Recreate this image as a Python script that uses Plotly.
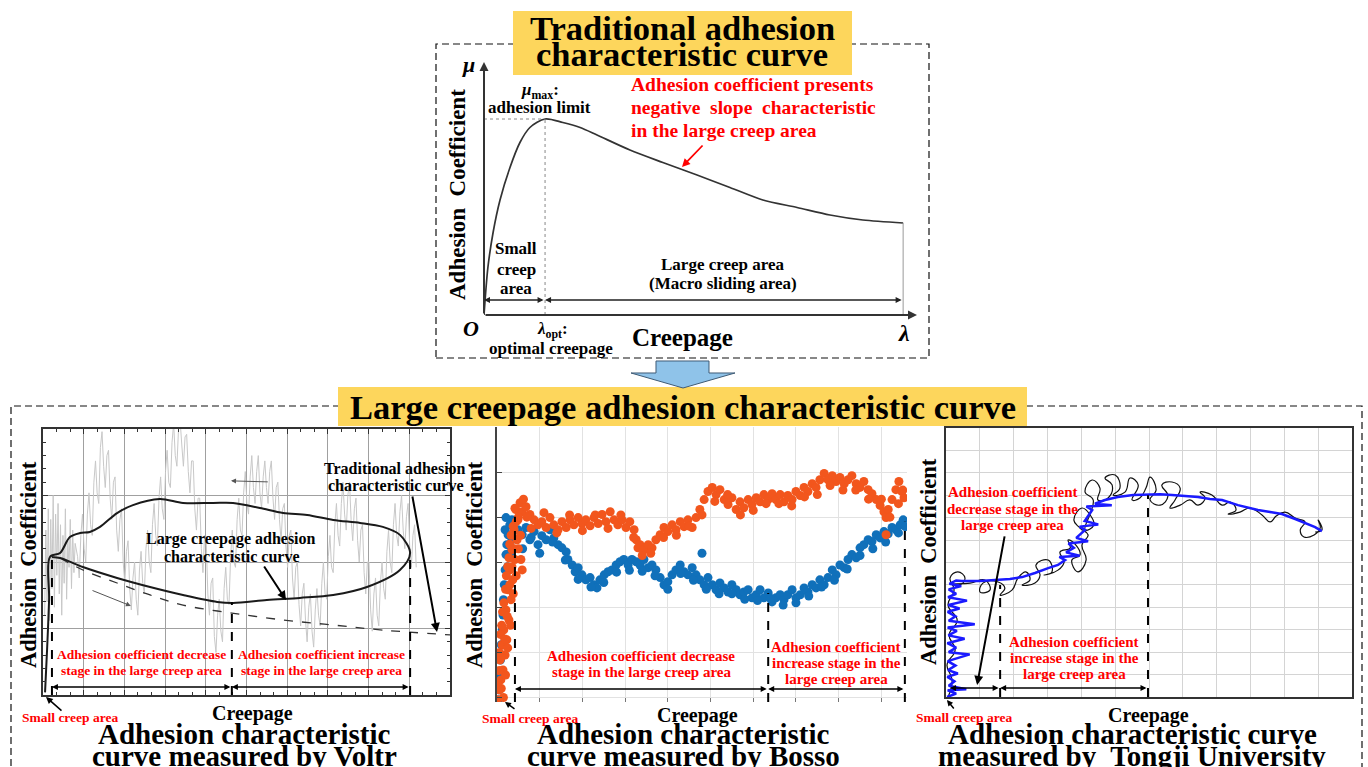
import plotly.graph_objects as go

W, H = 1368, 767
SERIF = "Liberation Serif"
RED = "#FF0000"
YELLOW = "#FDD65C"
BLUE_PTS = "#1070BA"
ORANGE_PTS = "#F2561D"


def px(x):
    return x / W


def py(y):
    return 1 - y / H


# ---------------- Traditional adhesion curve (top panel) ----------------
trad_x = [0, 0.009, 0.021, 0.037, 0.060, 0.083, 0.106, 0.141, 0.182, 0.222,
          0.261, 0.337, 0.413, 0.492, 0.568, 0.644, 0.723, 0.799, 0.875, 0.968]
trad_y = [0, 0.19, 0.33, 0.46, 0.59, 0.69, 0.75, 0.784, 0.77, 0.75,
          0.72, 0.66, 0.61, 0.56, 0.51, 0.46, 0.43, 0.40, 0.38, 0.368]
lam_opt, mu_max, lam_end = 0.141, 0.784, 0.968

# ---------------- Voltr measurement ----------------
# raw measured adhesion signal (creepage, adhesion coefficient)
voltr_raw = [
    (0.4, 0.30), (0.7, 0.62), (1.0, 0.35), (1.3, 0.70), (1.6, 0.28), (1.9, 0.66), (2.2, 0.40),
    (2.5, 0.75), (2.8, 0.33), (3.1, 0.68), (3.4, 0.45), (3.7, 0.72), (4.0, 0.38), (4.3, 0.64),
    (4.6, 0.30), (4.9, 0.60), (5.2, 0.42), (5.5, 0.70), (5.8, 0.36), (6.1, 0.58), (6.4, 0.48),
    (6.7, 0.66), (7.0, 0.40), (7.3, 0.62), (7.6, 0.46), (7.9, 0.57),
    (8.5, .52), (8.9, .44), (9.3, .60), (9.7, .68), (10.1, .55), (10.5, .50), (10.9, .68),
    (11.3, .76), (11.7, .64), (12.1, .60), (12.5, .80), (12.9, .88), (13.3, .76), (13.7, .72),
    (14.1, .93), (14.5, .99), (14.9, .86), (15.3, .78), (15.7, .90), (16.1, .92), (16.5, .74),
    (16.9, .66), (17.3, .80), (17.7, .82), (18.1, .62), (18.5, .54), (18.9, .66), (19.3, .70),
    (19.7, .50), (20.1, .42), (20.5, .54), (20.9, .58), (21.3, .40), (21.7, .32), (22.1, .44),
    (22.5, .50), (22.9, .36), (23.3, .30), (23.7, .47), (24.1, .54), (24.5, .42), (24.9, .38),
    (25.3, .55), (25.7, .62), (26.1, .50), (26.5, .46), (26.9, .64), (27.3, .72), (27.7, .60),
    (28.1, .56), (28.5, .74), (28.9, .82), (29.3, .70), (29.7, .66), (30.1, .84), (30.5, .92),
    (30.9, .80), (31.3, .78), (31.7, .95), (32.1, 1.02), (32.5, .90), (32.9, .86), (33.3, 1.00),
    (33.7, 1.03), (34.1, .94), (34.5, .86), (34.9, .97), (35.3, .98), (35.7, .84), (36.1, .76),
    (36.5, .88), (36.9, .88), (37.3, .70), (37.7, .62), (38.1, .74), (38.5, .74), (38.9, .55),
    (39.3, .46), (39.7, .60), (40.1, .58), (40.5, .38), (40.9, .30), (41.3, .42), (41.7, .44),
    (42.1, .22), (42.5, .16), (42.9, .30), (43.3, .36), (43.7, .24), (44.1, .20), (44.5, .40),
    (44.9, .48), (45.3, .36), (45.7, .34), (46.1, .52), (46.5, .62), (46.9, .50), (47.3, .48),
    (47.7, .66), (48.1, .74), (48.5, .62), (48.9, .60), (49.3, .76), (49.7, .84), (50.1, .72),
    (50.5, .68), (50.9, .82), (51.3, .90), (51.7, .78), (52.1, .72), (52.5, .84), (52.9, .90),
    (53.3, .76), (53.7, .70), (54.1, .82), (54.5, .88), (54.9, .78), (55.3, .72), (55.7, .84),
    (56.1, .88), (56.5, .74), (56.9, .66), (57.3, .78), (57.7, .80), (58.1, .66), (58.5, .58),
    (58.9, .70), (59.3, .72), (59.7, .56), (60.1, .48), (60.5, .60), (60.9, .62), (61.3, .44),
    (61.7, .36), (62.1, .48), (62.5, .50), (62.9, .34), (63.3, .26), (63.7, .38), (64.1, .42),
    (64.5, .28), (64.9, .20), (65.3, .33), (65.7, .38), (66.1, .24), (66.5, .18), (66.9, .32),
    (67.3, .40), (67.7, .30), (68.1, .26), (68.5, .42), (68.9, .50), (69.3, .38), (69.7, .36),
    (70.1, .52), (70.5, .60), (70.9, .48), (71.3, .46), (71.7, .64), (72.1, .72), (72.5, .60),
    (72.9, .56), (73.3, .72), (73.7, .80), (74.1, .68), (74.5, .62), (74.9, .75), (75.3, .80),
    (75.7, .66), (76.1, .58), (76.5, .70), (76.9, .74), (77.3, .58), (77.7, .50), (78.1, .62),
    (78.5, .64), (78.9, .46), (79.3, .38), (79.7, .50), (80.1, .50), (80.5, .32), (80.9, .24),
    (81.3, .38), (81.7, .44), (82.1, .30), (82.5, .26), (82.9, .42), (83.3, .50), (83.7, .40),
    (84.1, .36), (84.5, .54), (84.9, .62), (85.3, .50), (85.7, .46), (86.1, .64), (86.5, .72),
    (86.9, .60), (87.3, .56), (87.7, .69), (88.1, .75), (88.5, .62), (88.9, .55), (89.3, .67),
    (89.7, .72), (90.1, .56), (90.5, .48), (90.9, .60), (91.3, .64), (91.7, .48),
]
voltr_raw_x = [p[0] for p in voltr_raw]
voltr_raw_y = [p[1] for p in voltr_raw]
voltr_loop_x = [0.5, 1.0, 1.5, 1.7, 4.2, 6.6, 9.1, 11.5, 14.0, 18.2, 22.1, 28.7, 34.4, 41.8,
                46.7, 53.3, 59.0, 64.9, 71.3, 77.9, 83.5, 87.7, 90.2,
                87.7, 79.6, 71.3, 63.1, 55.0, 46.7, 42.8, 34.4, 26.3, 18.2, 9.8, 4.2, 2.2]
voltr_loop_y = [0.01, 0.17, 0.36, 0.519, 0.534, 0.594, 0.609, 0.613, 0.632, 0.684, 0.714,
                0.737, 0.722, 0.722, 0.722, 0.703, 0.684, 0.677, 0.658, 0.647, 0.632,
                0.602, 0.534,
                0.470, 0.406, 0.376, 0.365, 0.357, 0.346, 0.350, 0.376, 0.406, 0.440,
                0.481, 0.515, 0.519]
voltr_trad_x = [4.2, 9.8, 18.2, 26.3, 34.4, 46.4, 59.0, 71.3, 83.5, 100]
voltr_trad_y = [0.515, 0.470, 0.421, 0.376, 0.338, 0.308, 0.282, 0.263, 0.244, 0.226]
voltr_stage_x = [2.2, 46.4, 90.2]      # small creep / decrease / increase boundaries
voltr_stage_top = [0.519, 0.35, 0.534]

# ---------------- Bosso measurement ----------------
bosso_blue_x = [0.03, 0.05, 0.07, 0.08, 0.10, 0.12, 0.14, 0.15, 0.17, 0.19, 0.21, 0.23, 0.26,
                0.19, 0.30, 0.35, 0.21, 0.40,
                0.49, 0.59, 0.68, 0.77, 0.87, 0.96, 1.05, 1.15, 1.24, 1.33, 1.43, 1.52, 1.62,
                1.66, 1.76, 1.83, 1.90, 1.99, 2.08, 2.18, 2.27, 2.34, 2.41, 2.51, 2.60, 2.69,
                2.79, 2.88, 2.97, 3.07, 3.16, 3.26, 3.35, 3.44, 3.54, 3.63, 3.72, 3.82, 3.91,
                4.00, 4.10, 4.19, 4.29, 4.38, 4.47, 4.57, 4.66, 4.75, 4.85, 4.94, 5.04, 5.13,
                5.22, 5.32, 5.41, 5.50, 5.60, 5.69, 5.78, 5.88, 5.97, 6.07, 6.16, 6.25, 6.35,
                6.44, 6.53, 6.63, 6.72, 6.81, 6.91, 7.00, 7.10, 7.19, 7.28, 7.38, 7.47, 7.56,
                7.66, 7.75, 7.85, 7.94, 8.03, 8.13, 8.22, 8.31, 8.41, 8.50, 8.59, 8.69, 8.78,
                8.88, 8.97, 9.06, 9.16, 9.25, 9.34, 9.44, 9.51, 9.56,
                1.0, 1.3, 1.6, 1.9, 2.2, 2.5, 2.8, 3.1, 3.4, 3.7, 4.0, 4.3, 4.6, 4.9, 5.2,
                5.5, 5.8, 6.1, 6.4, 6.7, 7.0, 7.3, 7.6, 7.9, 8.2, 8.5, 8.8, 9.1, 9.4,
                0.6, 0.8, 0.35, 0.30, 0.25, 4.8]
bosso_blue_y = [-0.05, 0.17, 0.5, 0.83, 1.17, 1.5, 1.83, 2.17, 2.5, 2.83, 3.17, 3.39, 3.61,
                3.72, 3.83, 3.94, 3.99, 3.9,
                3.72, 3.61, 3.77, 3.50, 3.68, 3.39, 3.59, 3.50, 3.72, 3.54, 3.39, 3.32, 3.23,
                3.06, 2.94, 2.79, 2.88, 2.72, 2.61, 2.66, 2.50, 2.43, 2.61, 2.72, 2.79, 2.83,
                2.94, 3.01, 3.06, 2.94, 3.06, 3.01, 2.94, 3.06, 2.88, 2.94, 2.83, 2.66, 2.50,
                2.57, 2.72, 2.83, 2.94, 2.79, 2.72, 2.88, 2.72, 2.61, 2.50, 2.66, 2.50, 2.39,
                2.54, 2.43, 2.34, 2.50, 2.39, 2.28, 2.34, 2.39, 2.21, 2.28, 2.39, 2.21, 2.32,
                2.12, 2.21, 2.28, 2.17, 2.28, 2.39, 2.21, 2.28, 2.43, 2.34, 2.50, 2.43, 2.61,
                2.50, 2.66, 2.83, 2.72, 2.94, 2.88, 3.06, 3.17, 3.10, 3.32, 3.39, 3.50, 3.46,
                3.61, 3.54, 3.68, 3.63, 3.77, 3.72, 3.83, 3.94, 3.79,
                3.20, 3.45, 3.05, 2.62, 2.45, 2.55, 2.78, 2.82, 2.80, 2.70, 2.40, 2.75, 2.60,
                2.40, 2.30, 2.30, 2.18, 2.15, 2.20, 2.05, 2.10, 2.25, 2.45, 2.60, 2.85, 3.15,
                3.30, 3.45, 3.65,
                3.30, 3.55, 3.50, 3.20, 2.90, 3.20]
bosso_orange_x = [0.0, 0.05, 0.09, 0.14, 0.07, 0.19, 0.12, 0.23, 0.16, 0.28, 0.21, 0.33, 0.26,
                  0.37, 0.30, 0.42, 0.35, 0.47, 0.40, 0.49, 0.44, 0.54, 0.59, 0.59, 0.56,
                  0.68, 0.77, 0.87, 0.96, 1.05, 1.15, 1.24, 1.33, 1.43, 1.52, 1.62, 1.71, 1.80,
                  1.90, 1.99, 2.08, 2.18, 2.27, 2.37, 2.46, 2.55, 2.65, 2.74, 2.83, 2.93, 3.02,
                  3.11, 3.21, 3.26, 3.30, 3.35, 3.44, 3.54, 3.63, 3.72, 3.82, 3.91, 4.00, 4.10,
                  4.19, 4.29, 4.38, 4.47, 4.57, 4.66, 4.75, 4.85, 4.94, 5.04, 5.13, 5.22, 5.32,
                  5.41, 5.50, 5.60, 5.69, 5.78, 5.88, 5.97, 6.07, 6.16, 6.25, 6.35, 6.44, 6.53,
                  6.63, 6.72, 6.81, 6.91, 7.00, 7.10, 7.19, 7.28, 7.38, 7.47, 7.56, 7.66, 7.75,
                  7.85, 7.94, 8.03, 8.13, 8.22, 8.31, 8.41, 8.50, 8.59, 8.69, 8.78, 8.88, 8.97,
                  9.06, 9.11, 9.16, 9.25, 9.34, 9.41, 9.48, 9.53, 9.11,
                  0.8, 1.1, 1.4, 1.7, 2.0, 2.3, 2.6, 2.9, 3.2, 3.4, 3.6, 3.9, 4.2, 4.5, 4.8,
                  5.1, 5.4, 5.7, 6.0, 6.3, 6.6, 6.9, 7.2, 7.5, 7.8, 8.1, 8.4, 8.7, 9.0, 9.2,
                  9.4, 9.5, 0.25, 0.32, 0.38, 0.45, 0.5, 0.55, 0.62, 0.7, 0.1, 0.15, 0.2,
                  0.05, 0.10, 0.08, 0.18, 0.13, 0.24, 0.20, 0.30, 0.25, 0.35, 0.30, 0.40, 0.38,
                  0.45, 0.50, 0.02, 0.06, 0.11, 0.16, 0.22, 0.28, 0.33, 0.42]
bosso_orange_y = [-0.05, 0.17, 0.39, 0.61, 0.83, 0.94, 1.17, 1.28, 1.50, 1.72, 1.94, 2.17,
                  2.39, 2.61, 2.83, 3.06, 3.28, 3.50, 3.72, 3.94, 4.17, 4.32, 4.12, 2.83, 3.06,
                  4.23, 4.06, 3.94, 3.83, 3.90, 3.77, 3.99, 3.83, 3.72, 3.90, 3.77, 3.94, 3.83,
                  3.99, 3.86, 3.94, 3.81, 3.99, 3.86, 4.06, 3.90, 4.12, 3.94, 3.83, 3.94, 3.77,
                  3.90, 3.72, 3.50, 3.32, 3.39, 3.28, 3.39, 3.32, 3.50, 3.61, 3.77, 3.68, 3.83,
                  3.72, 3.90, 3.79, 3.94, 3.77, 3.99, 4.17, 4.39, 4.57, 4.66, 4.50, 4.61, 4.39,
                  4.28, 4.43, 4.17, 4.34, 4.21, 4.39, 4.28, 4.43, 4.34, 4.50, 4.39, 4.52, 4.39,
                  4.50, 4.34, 4.48, 4.39, 4.57, 4.48, 4.66, 4.57, 4.74, 4.66, 4.83, 4.97, 4.83,
                  4.92, 4.79, 4.88, 4.74, 4.83, 4.92, 4.74, 4.66, 4.79, 4.61, 4.52, 4.39, 4.26,
                  4.12, 3.99, 4.17, 4.39, 4.61, 4.79, 4.57, 4.43, 3.61,
                  3.75, 4.10, 3.65, 4.05, 3.70, 4.05, 3.75, 4.05, 3.55, 3.15, 3.20, 3.55, 3.60,
                  3.80, 4.05, 4.35, 4.50, 4.05, 4.15, 4.30, 4.30, 4.25, 4.45, 4.50, 4.70, 4.60,
                  4.60, 4.40, 4.40, 4.00, 4.30, 4.60, 1.1, 1.6, 2.3, 2.7, 3.3, 3.6, 4.4, 4.0,
                  0.2, 0.0, 0.5,
                  0.6, 0.9, 1.4, 1.3, 1.9, 1.8, 2.4, 2.5, 2.9, 2.9, 3.4, 3.3, 3.8, 3.9, 4.0,
                  0.3, 1.0, 1.6, 2.1, 2.7, 3.1, 3.6, 4.2]
bosso_stage_x = [0.42, 6.35, 9.55]
bosso_stage_top = [4.01, 2.32, 3.90]

# ---------------- Tongji University measurement ----------------
tongji_blue_x = [0.03, 0.30, 0.05, 0.60, 0.08, 0.25, 0.04, 0.35, 0.06, 0.28, 0.05, 0.70, 0.08,
                 0.30, 0.04, 0.55, 0.07, 0.32, 0.05, 0.85, 0.08, 0.28, 0.05, 0.40, 0.07, 0.62,
                 0.06, 0.30, 0.08, 0.45, 0.10, 0.30,
                 0.47, 1.00, 1.45, 1.89, 2.25, 2.63, 3.02, 3.31, 3.52, 3.35, 3.95, 3.55, 3.78,
                 3.62, 4.20, 3.85, 4.11, 3.95, 4.50, 4.10, 4.32, 4.15, 4.90, 4.40, 4.70, 5.08,
                 5.53, 5.97, 6.33, 6.68, 7.06, 7.45, 7.80, 8.16, 8.63, 8.99, 9.22, 9.58, 9.93,
                 10.32, 10.61, 10.91, 11.11]
tongji_blue_y = [0.00, 0.15, 0.30, 0.35, 0.50, 0.70, 0.90, 1.05, 1.20, 1.40, 1.60, 1.90, 2.00,
                 2.20, 2.40, 2.60, 2.75, 2.95, 3.10, 3.25, 3.40, 3.60, 3.80, 3.95, 4.10, 4.30,
                 4.45, 4.60, 4.80, 4.95, 5.05, 5.20,
                 5.17, 5.17, 5.22, 5.26, 5.35, 5.53, 5.75, 5.89, 6.11, 6.25, 6.30, 6.45, 6.65,
                 6.85, 6.95, 7.10, 7.45, 7.60, 7.70, 7.85, 8.34, 8.50, 8.55, 8.62, 8.79, 8.92,
                 9.01, 9.05, 9.05, 9.01, 8.97, 8.92, 8.83, 8.79, 8.56, 8.43, 8.34, 8.25, 8.16,
                 7.94, 7.76, 7.58, 7.40]
tongji_black_x = [0.06, 0.18, 0.03, 0.27, 0.09, 0.33, 0.06, 0.24, 0.12, 0.35, 0.56, 0.41, 0.18,
                  0.71, 1.15, 1.30, 1.01, 1.09, 1.54, 1.74, 1.60, 1.95, 2.13, 2.36, 2.48, 2.25,
                  2.63, 2.78, 2.66, 3.02, 3.13, 2.90, 3.31, 3.49, 3.37, 3.67, 3.61, 3.84, 3.96,
                  3.72, 3.90, 4.14, 4.02, 4.20, 3.96, 3.78, 4.02, 4.26, 4.37, 4.11, 4.35, 4.11,
                  4.32, 4.55, 4.49, 4.79, 4.91, 4.70, 5.00, 5.14, 4.94, 5.29, 5.44, 5.68, 5.50,
                  5.73, 5.91, 6.03, 6.21, 6.03, 6.33, 6.56, 6.38, 6.68, 6.92, 6.77, 6.62, 6.92,
                  7.21, 7.45, 7.66, 7.51, 7.86, 8.16, 8.40, 8.57, 8.34, 8.69, 8.99, 9.34, 9.58,
                  9.76, 10.02, 10.32, 10.61, 10.47, 10.58, 10.88, 11.06, 11.00, 11.11, 10.91]
tongji_black_y = [0.00, 0.76, 1.43, 2.10, 2.77, 3.43, 4.10, 4.77, 5.31, 5.58, 5.31, 5.00, 5.04,
                  5.08, 5.22, 4.77, 4.68, 5.08, 5.13, 4.86, 4.55, 4.77, 5.31, 5.58, 5.22, 5.00,
                  5.08, 5.44, 5.89, 6.11, 5.58, 5.44, 5.66, 6.02, 6.47, 6.65, 7.00, 6.78, 6.33,
                  6.11, 5.58, 6.11, 6.78, 7.23, 7.54, 7.89, 8.43, 8.12, 7.67, 7.45, 8.79, 9.14,
                  9.68, 9.32, 8.79, 8.88, 9.46, 9.77, 9.90, 9.32, 9.01, 9.14, 9.77, 9.46, 8.79,
                  8.88, 9.32, 9.81, 9.23, 8.79, 8.56, 8.97, 9.46, 9.59, 9.32, 8.79, 8.43, 8.56,
                  8.79, 8.56, 8.88, 9.14, 9.01, 8.56, 8.70, 8.34, 8.16, 8.25, 8.43, 8.12, 7.81,
                  8.07, 8.25, 7.98, 7.81, 7.45, 7.14, 7.23, 7.54, 7.89, 7.45, 7.36]
tongji_stage_x = [1.60, 5.97]
tongji_stage_top = [5.0, 9.0]

traces = []
# top panel curve
traces.append(go.Scatter(x=trad_x, y=trad_y, mode="lines", xaxis="x", yaxis="y",
                         line=dict(color="#333333", width=1.7, shape="spline", smoothing=0.8)))
# Voltr panel
traces.append(go.Scatter(x=voltr_raw_x, y=voltr_raw_y, mode="lines", xaxis="x2", yaxis="y2",
                         line=dict(color="#C8C8C8", width=1)))
traces.append(go.Scatter(x=voltr_trad_x, y=voltr_trad_y, mode="lines", xaxis="x2", yaxis="y2",
                         line=dict(color="#333333", width=1.3, dash="dash", shape="spline")))
traces.append(go.Scatter(x=voltr_loop_x, y=voltr_loop_y, mode="lines", xaxis="x2", yaxis="y2",
                         line=dict(color="#1A1A1A", width=2, shape="spline", smoothing=0.9)))
# Bosso panel
traces.append(go.Scatter(x=bosso_blue_x, y=bosso_blue_y, mode="markers", xaxis="x3", yaxis="y3",
                         marker=dict(color=BLUE_PTS, size=9, line=dict(width=0))))
traces.append(go.Scatter(x=bosso_orange_x, y=bosso_orange_y, mode="markers", xaxis="x3", yaxis="y3",
                         marker=dict(color=ORANGE_PTS, size=9, line=dict(width=0))))
# Tongji panel
traces.append(go.Scatter(x=tongji_black_x, y=tongji_black_y, mode="lines", xaxis="x4", yaxis="y4",
                         line=dict(color="#111111", width=1.2, shape="spline", smoothing=1.3)))
traces.append(go.Scatter(x=tongji_blue_x, y=tongji_blue_y, mode="lines", xaxis="x4", yaxis="y4",
                         line=dict(color="#1A1AFF", width=2.5)))

fig = go.Figure(traces)

shapes = []
annotations = []


def label(text, x, y, size, color="black", angle=0, bold=True, italic=False, anchor="center"):
    t = text
    if italic:
        t = f"<i>{t}</i>"
    if bold:
        t = f"<b>{t}</b>"
    annotations.append(dict(text=t, x=px(x), y=py(y), xref="paper", yref="paper",
                            showarrow=False, textangle=angle, xanchor=anchor, yanchor="middle",
                            font=dict(family=SERIF, size=size, color=color)))


def ref(i):
    return ("x", "y") if i == 1 else (f"x{i}", f"y{i}")


def data_arrow(i, tail, head, color="black", width=1.5, both=False, size=1.0):
    xr, yr = ref(i)
    annotations.append(dict(x=head[0], y=head[1], ax=tail[0], ay=tail[1], xref=xr, yref=yr,
                            axref=xr, ayref=yr, showarrow=True, text="", arrowhead=2,
                            arrowsize=size, arrowwidth=width, arrowcolor=color,
                            arrowside="end+start" if both else "end"))


def page_arrow(tail, head, color="black", width=1.5, size=1.0):
    annotations.append(dict(x=px(head[0]), y=py(head[1]), ax=tail[0] - head[0], ay=tail[1] - head[1],
                            xref="paper", yref="paper", axref="pixel", ayref="pixel",
                            showarrow=True, text="", arrowhead=2, arrowsize=size,
                            arrowwidth=width, arrowcolor=color))


def vline(i, x, y0, y1, dash="dash", color="black", width=2):
    xr, yr = ref(i)
    shapes.append(dict(type="line", xref=xr, yref=yr, x0=x, x1=x, y0=y0, y1=y1,
                       line=dict(color=color, width=width, dash=dash)))


def box(x0, y0, x1, y1, fill=None, dash=None, width=1.2):
    s = dict(type="rect", xref="paper", yref="paper", x0=px(x0), x1=px(x1), y0=py(y1), y1=py(y0))
    if fill:
        s.update(fillcolor=fill, line=dict(width=0))
    else:
        s.update(line=dict(color="#111111", width=width, dash=dash))
    shapes.append(s)


# frames and headline boxes
box(436, 44, 929, 358, dash="7px,4px")
box(11, 406, 1362, 772, dash="7px,4px")
box(513, 11, 852, 75, fill=YELLOW)
box(338, 387, 1027, 426, fill=YELLOW)

# transition arrow between the two sections
arrow_pts = [(656, 361), (709, 361), (709, 373), (735, 373), (683, 388), (631, 373), (656, 373)]
path = "M " + " L ".join(f"{px(a):.5f},{py(b):.5f}" for a, b in arrow_pts) + " Z"
shapes.append(dict(type="path", xref="paper", yref="paper", path=path,
                   fillcolor="#8FC3E9", line=dict(color="#3F5B75", width=1)))

# ---- top panel decorations ----
shapes.append(dict(type="line", xref="x", yref="y", x0=0, x1=lam_opt, y0=mu_max, y1=mu_max,
                   line=dict(color="#888888", width=1, dash="dot")))
vline(1, lam_opt, 0, mu_max, dash="dot", color="#888888", width=1)
vline(1, lam_end, 0, trad_y[-1], dash="solid", color="#9A9A9A", width=1)
data_arrow(1, (0, 0), (1.0, 0), color="#333333", width=2, size=0.9)
data_arrow(1, (0, 0), (0, 1.012), color="#333333", width=2, size=0.9)
data_arrow(1, (lam_opt, 0.06), (0, 0.06), color="#222222", width=1.5, both=True, size=0.8)
data_arrow(1, (lam_end, 0.06), (lam_opt, 0.06), color="#222222", width=1.5, both=True, size=0.8)
page_arrow((704, 144), (682, 167), color=RED, width=1.8, size=0.9)

label("Traditional adhesion", 682, 28, 34.5)
label("characteristic curve", 682, 54, 34.5)
label("μ", 469, 64, 22, italic=True)
label("<i>μ</i><sub>max</sub>:", 540, 91, 17)
label("adhesion limit", 539, 108, 17)
label("Adhesion coefficient presents", 629, 84, 19.5, color=RED, anchor="left")
label("negative\u00a0 slope\u00a0 characteristic", 629, 107, 19.5, color=RED, anchor="left")
label("in the large creep area", 629, 130, 19.5, color=RED, anchor="left")
label("Small", 516, 248, 17)
label("creep", 516, 269, 17)
label("area", 516, 289, 17)
label("Large creep area", 723, 265, 17)
label("(Macro sliding area)", 723, 284, 17)
label("O", 471, 328, 22, italic=True)
label("<i>λ</i><sub>opt</sub>:", 552, 330, 17)
label("optimal creepage", 551, 348, 17)
label("Creepage", 682, 337, 25)
label("λ", 904, 333, 24, italic=True)
label("Adhesion\u00a0 Coefficient", 457, 195, 23, angle=-90)

# ---- Voltr panel decorations ----
for xs, top in zip(voltr_stage_x, voltr_stage_top):
    vline(2, xs, 0, top)
data_arrow(2, (46.4, 0.03), (2.2, 0.03), both=True, size=0.8)
data_arrow(2, (90.2, 0.03), (46.4, 0.03), both=True, size=0.8)
data_arrow(2, (90.7, 0.752), (96.8, 0.237), width=2, size=0.9)
data_arrow(2, (54.1, 0.489), (59.7, 0.357), width=2, size=0.9)
data_arrow(2, (55.6, 0.801), (46.2, 0.805), color="#555555", width=1, size=1)
data_arrow(2, (11.8, 0.395), (21.6, 0.335), color="#555555", width=1, size=1)
page_arrow((63, 712), (46, 697), width=1.5, size=0.9)

label("Traditional adhesion", 395, 468, 16)
label("characteristic curve", 395, 486, 16)
label("Large creepage adhesion", 231, 539, 16)
label("characteristic curve", 231, 556, 16)
label("Adhesion coefficient decrease", 141, 654, 13.5, color=RED)
label("stage in the large creep area", 141, 670, 13.5, color=RED)
label("Adhesion coefficient increase", 321, 654, 13.5, color=RED)
label("stage in the large creep area", 321, 670, 13.5, color=RED)
label("Small creep area", 70, 717, 13.5, color=RED)
label("Creepage", 252, 713, 20)
label("Adhesion characteristic", 244, 734, 29)
label("curve measured by Voltr", 244, 756, 29)
label("Adhesion\u00a0 Coefficient", 28, 565, 22.5, angle=-90)

# ---- Bosso panel decorations ----
for xs, top in zip(bosso_stage_x, bosso_stage_top):
    vline(3, xs, -0.1, top)
data_arrow(3, (6.35, 0.19), (0.42, 0.19), both=True, size=0.8)
data_arrow(3, (9.55, 0.19), (6.35, 0.19), both=True, size=0.8)
page_arrow((516, 710), (505, 702), width=1.5, size=0.8)

label("Adhesion coefficient decrease", 641, 656, 15, color=RED)
label("stage in the large creep area", 641, 672, 15, color=RED)
label("Adhesion coefficient", 836, 647, 15, color=RED)
label("increase stage in the", 836, 663, 15, color=RED)
label("large creep area", 836, 679, 15, color=RED)
label("Small creep area", 530, 718, 13.5, color=RED)
label("Creepage", 698, 715, 20)
label("Adhesion characteristic", 683, 734, 29)
label("curve measured by Bosso", 683, 756, 29)
label("Adhesion\u00a0 Coefficient", 474, 565, 22.5, angle=-90)

# ---- Tongji panel decorations ----
for xs, top in zip(tongji_stage_x, tongji_stage_top):
    vline(4, xs, 0, top)
data_arrow(4, (1.60, 0.40), (0.12, 0.40), both=True, size=0.8)
data_arrow(4, (5.97, 0.40), (1.60, 0.40), both=True, size=0.8)
data_arrow(4, (1.74, 7.23), (0.92, 0.54), width=2, size=0.9)
page_arrow((955, 710), (947, 700), width=1.5, size=0.8)

label("Adhesion coefficient", 1013, 492, 15, color=RED)
label("decrease stage in the", 1013, 509, 15, color=RED)
label("large creep area", 1013, 525, 15, color=RED)
label("Adhesion coefficient", 1074, 642, 15, color=RED)
label("increase stage in the", 1074, 658, 15, color=RED)
label("large creep area", 1074, 674, 15, color=RED)
label("Small creep area", 964, 717, 13.5, color=RED)
label("Creepage", 1148, 715, 20)
label("Adhesion characteristic curve", 1132, 734, 29)
label("measured by\u00a0 Tongji University", 1132, 756, 29)
label("Adhesion\u00a0 Coefficient", 928, 562, 22.5, angle=-90)

label("Large creepage adhesion characteristic curve", 683, 407, 34.5)

hidden = dict(visible=False)
fig.update_layout(
    width=W, height=H, margin=dict(l=0, r=0, t=0, b=0),
    paper_bgcolor="white", plot_bgcolor="white", showlegend=False, hovermode=False,
    xaxis=dict(hidden, domain=[px(484), px(917)], range=[0, 1], anchor="y"),
    yaxis=dict(hidden, domain=[py(315), py(65)], range=[0, 1], anchor="x"),
    xaxis2=dict(anchor="y2", domain=[px(43), px(450)], range=[0, 100], dtick=10, showgrid=True,
                gridcolor="#A0A0A0", gridwidth=1, showline=True, linecolor="#333333",
                linewidth=1.5, mirror="ticks", ticks="inside", ticklen=5, tickcolor="#333333",
                showticklabels=False, zeroline=False,
                minor=dict(ticks="inside", ticklen=3, dtick=10 / 3, tickcolor="#333333",
                           showgrid=False)),
    yaxis2=dict(anchor="x2", domain=[py(695), py(429)], range=[0, 1], dtick=0.25, showgrid=True,
                gridcolor="#A0A0A0", gridwidth=1, showline=True, linecolor="#333333",
                linewidth=1.5, mirror="ticks", ticks="inside", ticklen=5, tickcolor="#333333",
                showticklabels=False, zeroline=False,
                minor=dict(ticks="inside", ticklen=3, dtick=0.05, tickcolor="#333333",
                           showgrid=False)),
    xaxis3=dict(anchor="y3", domain=[px(497), px(907)], range=[0, 9.6], dtick=1, showgrid=True,
                gridcolor="#E2E2E2", showline=False, ticks="inside", ticklen=4,
                tickcolor="#777777", showticklabels=False, zeroline=False),
    yaxis3=dict(anchor="x3", domain=[py(702), py(427)], range=[-0.1, 6.0], tick0=0, dtick=1,
                showgrid=True, gridcolor="#E2E2E2", showline=True, linecolor="#444444",
                linewidth=1.5, ticks="inside", ticklen=5, tickcolor="#444444",
                showticklabels=False, zeroline=False),
    xaxis4=dict(anchor="y4", domain=[px(946), px(1352)], range=[0, 12], dtick=1, showgrid=True,
                gridcolor="#D4D4D4", showline=True, linecolor="#333333", linewidth=2,
                mirror=True, showticklabels=False, zeroline=False),
    yaxis4=dict(anchor="x4", domain=[py(697), py(428)], range=[0, 12], dtick=1, showgrid=True,
                gridcolor="#D4D4D4", showline=True, linecolor="#333333", linewidth=2,
                mirror=True, showticklabels=False, zeroline=False),
    shapes=shapes,
    annotations=annotations,
)

fig.write_html("out.html")
